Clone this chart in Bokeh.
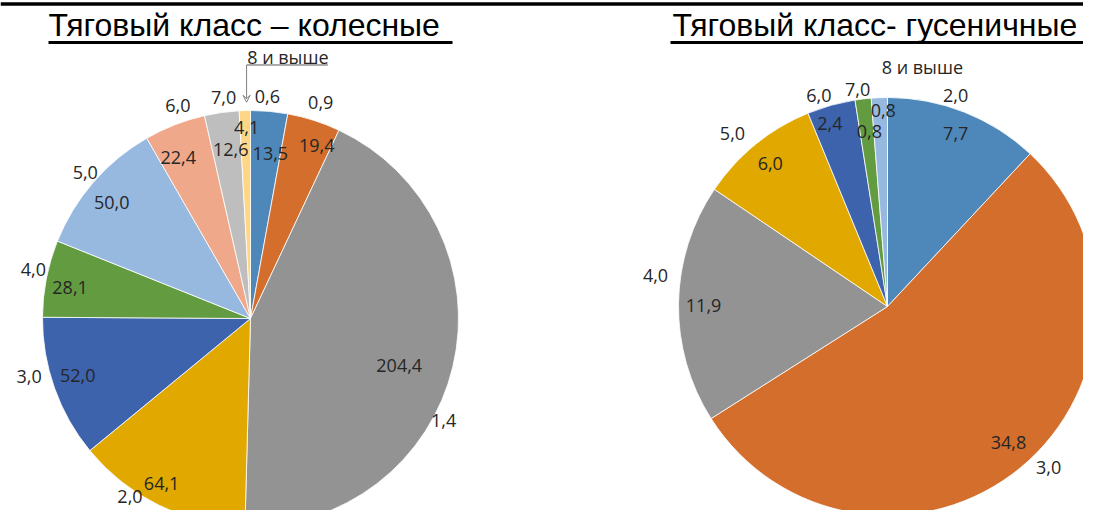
import math
import numpy as np
from bokeh.plotting import figure
from bokeh.models import ColumnDataSource, Range1d, Arrow, VeeHead
from bokeh.embed import file_html
from bokeh.resources import INLINE
from bokeh.core.properties import value

# ---------------- data ----------------
title_wheel = "Тяговый класс – колесные"
title_track = "Тяговый класс- гусеничные"

classes_wheel = ["0,6", "0,9", "1,4", "2,0", "3,0", "4,0", "5,0", "6,0", "7,0", "8 и выше"]
values_wheel = [13.5, 19.4, 204.4, 64.1, 52.0, 28.1, 50.0, 22.4, 12.6, 4.1]

classes_track = ["2,0", "3,0", "4,0", "5,0", "6,0", "7,0", "8 и выше"]
values_track = [7.7, 34.8, 11.9, 6.0, 2.4, 0.8, 0.8]

# ---------------- styles / layout ----------------
colors_wheel = ["#4E88BB", "#D36E2C", "#939393", "#E1A800", "#3C63AC",
                "#629B40", "#97B9E0", "#F0A88B", "#BEBEBE", "#FFD685"]
colors_track = ["#4E88BB", "#D36E2C", "#939393", "#E1A800", "#3C63AC",
                "#629B40", "#97B9E0"]

LABEL_FONT = value("Open Sans")
LABEL_SIZE = "18px"
LABEL_COLOR = "#262626"

# label placement tweaks: (angle offset from slice middle in degrees, radius fraction)
w_in_off = [1.7, 3.2, 4.2, 2.3, 1.3, -1.4, -1.0, -2.8, 1.3, 0.4]
w_in_frac = [0.80, 0.89, 0.75, 0.90, 0.875, 0.88, 0.87, 0.85, 0.82, 0.92]
w_out_off = [-0.8, 0.3, 14.5, 8.0, 4.9, 1.6, 0.5, 2.5, 1.0, 9.7]
w_out_frac = [1.07, 1.09, 1.05, 1.035, 1.10, 1.07, 1.06, 1.08, 1.07, 1.27]

t_in_off = [0.0, -2.0, -0.5, -0.2, -1.8, 0.8, 1.0]
t_in_frac = [0.89, 0.87, 0.88, 0.885, 0.92, 0.84, 0.94]
t_out_off = [-3.6, -5.3, 6.8, -2.8, -2.4, -1.1, 10.5]
t_out_frac = [1.06, 1.09, 1.12, 1.11, 1.06, 1.05, 1.16]

PAGE_H = 526
W, H = 1083, 510


def Y(py):
    return PAGE_H - py


p = figure(width=W, height=H, output_backend="svg", toolbar_location=None,
           x_range=Range1d(0, W), y_range=Range1d(PAGE_H - H, PAGE_H), min_border=0,
           x_axis_location=None, y_axis_location=None, outline_line_color=None,
           background_fill_color="white", border_fill_color="white")
p.grid.visible = False


def fmt(v):
    return f"{v:.1f}".replace(".", ",")


def draw_pie(cx, cy, r, cats, vals, colors, in_off, in_frac, out_off, out_frac):
    total = float(sum(vals))
    cum = np.concatenate([[0.0], np.cumsum(vals)])
    start = [math.pi / 2 - 2 * math.pi * cum[i] / total for i in range(len(vals))]
    end = [math.pi / 2 - 2 * math.pi * cum[i + 1] / total for i in range(len(vals))]
    mids = [360.0 * (cum[i] + cum[i + 1]) / 2 / total for i in range(len(vals))]
    src = ColumnDataSource(dict(start=start, end=end, color=colors, cat=cats, val=vals))
    p.wedge(x=cx, y=Y(cy), radius=r, start_angle="start", end_angle="end",
            direction="clock", fill_color="color", line_color="white",
            line_width=0.8, source=src)

    def pos(offs, fracs):
        xs, ys = [], []
        for m, o, f in zip(mids, offs, fracs):
            th = math.radians(m + o)
            xs.append(cx + f * r * math.sin(th))
            ys.append(Y(cy) + f * r * math.cos(th))
        return xs, ys

    ix, iy = pos(in_off, in_frac)
    ox, oy = pos(out_off, out_frac)
    p.text(x=ix, y=iy, text=[fmt(v) for v in vals], text_align="center",
           text_baseline="middle", text_font=LABEL_FONT, text_font_size=LABEL_SIZE,
           text_color=LABEL_COLOR)
    p.text(x=ox, y=oy, text=cats, text_align="center", text_baseline="middle",
           text_font=LABEL_FONT, text_font_size=LABEL_SIZE, text_color=LABEL_COLOR)
    return mids, ox, oy


# left pie (wheeled)
LCX, LCY, LR = 250, 318, 208
mids_w, ox_w, oy_w = draw_pie(LCX, LCY, LR, classes_wheel, values_wheel, colors_wheel,
                              w_in_off, w_in_frac, w_out_off, w_out_frac)

# leader for "8 и выше" (wheeled)
last = len(values_wheel) - 1
th = math.radians(mids_w[last])
tip_x = LCX + 1.04 * LR * math.sin(th)
tip_y = Y(LCY) + 1.04 * LR * math.cos(th)
ul_y = oy_w[last] - 8
ul_x1 = ox_w[last] + 40
p.segment(x0=[tip_x + 2], y0=[ul_y], x1=[ul_x1], y1=[ul_y], line_color="#595959", line_width=1)
p.add_layout(Arrow(end=VeeHead(size=7, line_color="#808080", line_width=1, fill_color=None),
                   x_start=tip_x + 2, y_start=ul_y, x_end=tip_x + 2, y_end=tip_y,
                   line_color="#808080", line_width=1))

# right pie (tracked)
RCX, RCY, RR = 887, 306, 209
draw_pie(RCX, RCY, RR, classes_track, values_track, colors_track,
         t_in_off, t_in_frac, t_out_off, t_out_frac)

# titles with underline
p.text(x=[48], y=[Y(24)], text=[title_wheel], text_font=value("Liberation Sans"),
       text_font_size="32px", text_color="black", text_baseline="middle")
p.segment(x0=[48], y0=[Y(42)], x1=[452], y1=[Y(42)], line_color="black", line_width=3)
p.text(x=[672], y=[Y(24)], text=[title_track], text_font=value("Liberation Sans"),
       text_font_size="32px", text_color="black", text_baseline="middle")
p.segment(x0=[670], y0=[Y(42)], x1=[1083], y1=[Y(42)], line_color="black", line_width=3)

# top rule
p.segment(x0=[0], y0=[Y(3.5)], x1=[W], y1=[Y(3.5)], line_color="black", line_width=3.5)

open("out.html", "w").write(file_html(p, INLINE))
